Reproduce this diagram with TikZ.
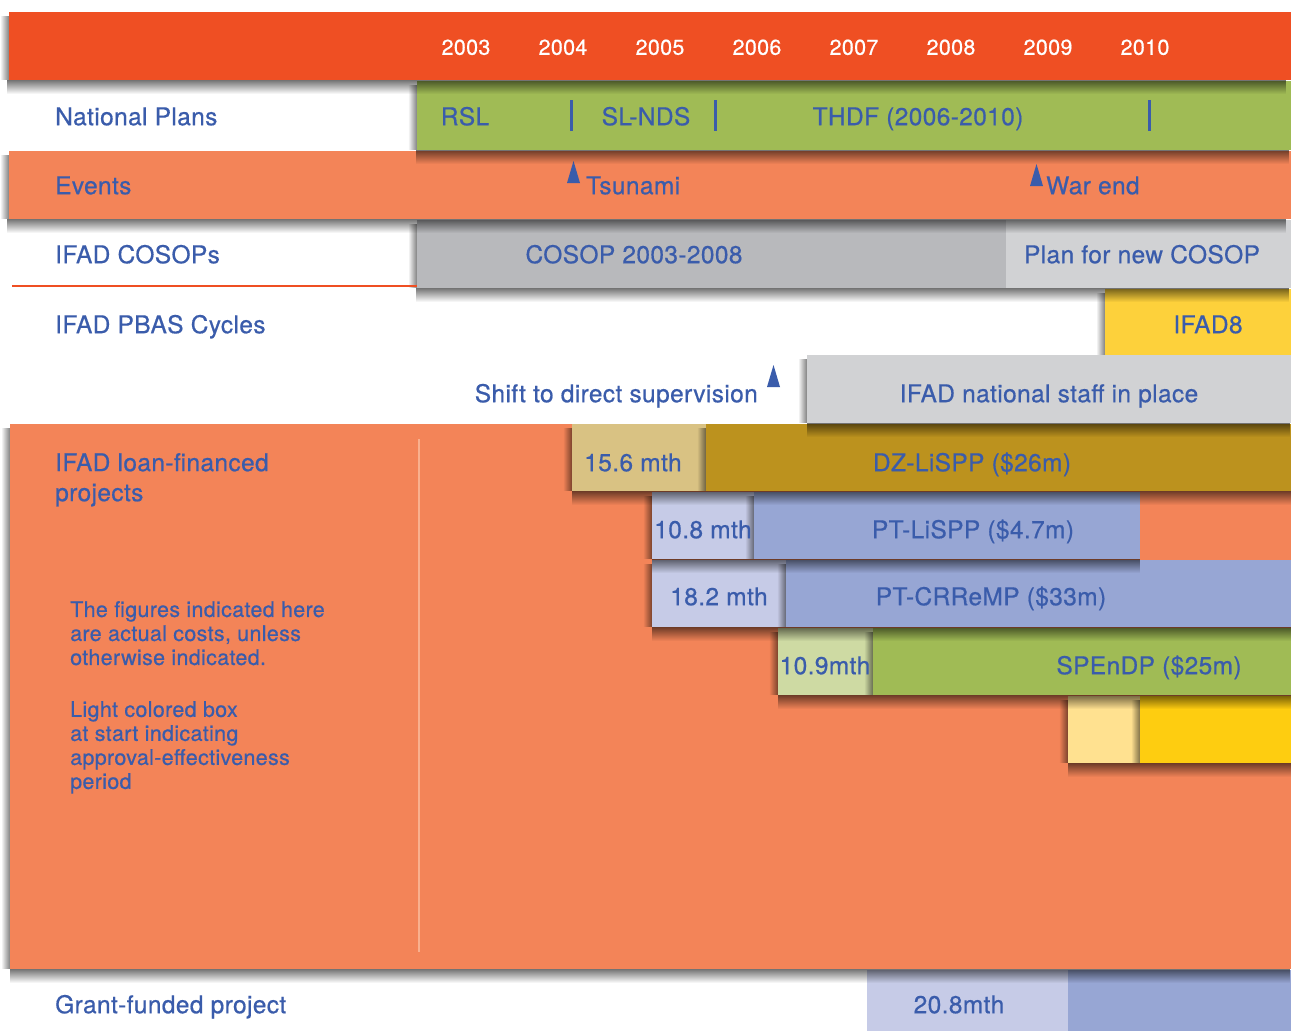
\documentclass[tikz,border=0pt]{standalone}
\usepackage{fontspec}
\setmainfont{TeX Gyre Heros}[FakeBold=0.6,LetterSpace=1.5]
\usetikzlibrary{fadings}
\tikzfading[name=fadedown, top color=transparent!45, bottom color=transparent!100]
\tikzfading[name=fadeleft, left color=transparent!100, right color=transparent!50]
\definecolor{topred}{HTML}{EF4F23}
\definecolor{salmon}{HTML}{F38458}
\definecolor{pgreen}{HTML}{A0BB55}
\definecolor{lgreen}{HTML}{CEDAA3}
\definecolor{greyA}{HTML}{B8B9BC}
\definecolor{greyB}{HTML}{D1D2D4}
\definecolor{yellowA}{HTML}{FDD13B}
\definecolor{gold}{HTML}{BC921E}
\definecolor{tan}{HTML}{D9C283}
\definecolor{pblue}{HTML}{97A6D4}
\definecolor{lblue}{HTML}{C6CBE7}
\definecolor{yellowB}{HTML}{FECD10}
\definecolor{lyellow}{HTML}{FFE190}
\definecolor{tblue}{HTML}{3A5CAB}
\definecolor{divline}{HTML}{F9B08E}
\newcommand{\shb}[3]{\fill[black,path fading=fadedown] (#1,#3) rectangle (#2,#3+14);}
\newcommand{\shl}[3]{\fill[black,path fading=fadeleft] (#1-9,#2+4) rectangle (#1,#3);}
\tikzset{
  txt/.style={text=tblue, font=\fontsize{24.5}{28}\selectfont, inner sep=0pt, text height=16.4pt, text depth=0pt},
  yr/.style={text=white, font=\fontsize{21.5}{24}\selectfont, inner sep=0pt, text height=15.5pt, text depth=0pt},
  note/.style={text=tblue, font=\fontsize{21.5}{24}\selectfont, inner sep=0pt, align=left, anchor=north west},
  biglbl/.style={text=tblue, font=\fontsize{24.5}{30}\selectfont, inner sep=0pt, align=left, anchor=north west},
  tri/.style={fill=tblue},
  divider/.style={draw=tblue, line width=3pt}
}
\begin{document}
\begin{tikzpicture}[x=1pt,y=-1pt]
\useasboundingbox (0,0) rectangle (1291,1031);
\fill[white] (0,0) rectangle (1291,1031);
% grant row
\fill[lblue] (867,970) rectangle (1068,1031);
\fill[pblue] (1068,970) rectangle (1291,1031);
\node[txt, anchor=west] (grant) at (55,1005) {Grant-funded project};
\node[txt] (g208) at (959,1005) {20.8mth};
% big salmon area
\fill[salmon] (10,424) rectangle (1291,969);
\shb{10}{1291}{969}
\shl{10}{424}{969}
\draw[divline, line width=1.5pt] (419,439) -- (419,952);
\node[biglbl] (loan) at (55,453) {IFAD loan-financed\\projects};
\node[note] (note1) at (70,601) {The figures indicated here\\are actual costs, unless\\otherwise indicated.};
\node[note] (note2) at (70,701) {Light colored box\\at start indicating\\approval-effectiveness\\period};
% yellow project
\fill[lyellow] (1068,696) rectangle (1140,763);
\fill[yellowB] (1140,696) rectangle (1291,763);
\shl{1140}{696}{763}
\shl{1068}{696}{763}
\shb{1068}{1291}{763}
% SPEnDP
\fill[lgreen] (778,628) rectangle (873,695);
\fill[pgreen] (873,628) rectangle (1291,695);
\shl{873}{628}{695}
\shl{778}{628}{695}
\shb{778}{1291}{695}
\node[txt] (t109) at (825,666) {10.9mth};
\node[txt] (spendp) at (1149,666) {SPEnDP (\$25m)};
% PT-CRReMP
\fill[lblue] (652,560) rectangle (786,627);
\fill[pblue] (786,560) rectangle (1291,627);
\shl{786}{560}{627}
\shl{652}{560}{627}
\shb{652}{1291}{627}
\node[txt] (t182) at (719,597) {18.2 mth};
\node[txt] (crremp) at (991,597) {PT-CRReMP (\$33m)};
% PT-LiSPP
\fill[lblue] (652,492) rectangle (754,559);
\fill[pblue] (754,492) rectangle (1140,559);
\shl{754}{492}{559}
\shl{652}{492}{559}
\shb{652}{1140}{559}
\node[txt] (t108) at (703,530) {10.8 mth};
\node[txt] (ptlispp) at (973,530) {PT-LiSPP (\$4.7m)};
% DZ-LiSPP
\fill[tan] (572,424) rectangle (706,491);
\fill[gold] (706,424) rectangle (1291,491);
\shl{706}{424}{491}
\shl{572}{424}{491}
\shb{572}{1291}{491}
\node[txt] (t156) at (633,463) {15.6 mth};
\node[txt] (dzlispp) at (972,463) {DZ-LiSPP (\$26m)};
% IFAD8
\fill[yellowA] (1105,289) rectangle (1291,355);
\shl{1105}{289}{355}
\node[txt] (ifad8) at (1208,325) {IFAD8};
% national staff
\fill[greyB] (807,355) rectangle (1291,423);
\shl{807}{355}{423}
\shb{807}{1291}{423}
\node[txt] (staff) at (1049,394) {IFAD national staff in place};
\node[txt, anchor=east] (shift) at (758,394) {Shift to direct supervision};
\fill[tri] (767,387) -- (780,387) -- (773.5,365) -- cycle;
\node[txt, anchor=west] (pbas) at (55,325) {IFAD PBAS Cycles};
% COSOP row
\fill[greyA] (417,220) rectangle (1006,288);
\fill[greyB] (1006,220) rectangle (1291,288);
\shl{417}{220}{288}
\shb{417}{1291}{288}
\draw[topred, line width=2pt] (12,286) -- (417,286);
\node[txt, anchor=west] (cosops) at (55,255) {IFAD COSOPs};
\node[txt] (cosop1) at (634,255) {COSOP 2003-2008};
\node[txt] (cosop2) at (1142,255) {Plan for new COSOP};
% events row
\fill[salmon] (9,151) rectangle (1291,219);
\shl{9}{151}{219}
\shb{9}{1291}{219}
\node[txt, anchor=west] (events) at (55,186) {Events};
\fill[tri] (567,183) -- (580,183) -- (573.5,161) -- cycle;
\node[txt, anchor=west] (tsunami) at (586,186) {Tsunami};
\fill[tri] (1030,186) -- (1043,186) -- (1036.5,164) -- cycle;
\node[txt, anchor=west] (warend) at (1046,186) {War end};
% national plans row
\fill[pgreen] (417,81) rectangle (1291,150);
\shl{417}{81}{150}
\shb{417}{1291}{150}
\node[txt, anchor=west] (plans) at (55,117) {National Plans};
\node[txt] (rsl) at (465,117) {RSL};
\node[txt] (slnds) at (646,117) {SL-NDS};
\node[txt] (thdf) at (918,117) {THDF (2006-2010)};
\draw[divider] (571,100) -- (571,131);
\draw[divider] (715,100) -- (715,131);
\draw[divider] (1149,100) -- (1149,131);
% top bar
\fill[topred] (9,12) rectangle (1291,80);
\shl{9}{12}{80}
\shb{9}{1291}{80}
\node[yr] (y2003) at (466,47) {2003};
\node[yr] (y2004) at (563,47) {2004};
\node[yr] (y2005) at (660,47) {2005};
\node[yr] (y2006) at (757,47) {2006};
\node[yr] (y2007) at (854,47) {2007};
\node[yr] (y2008) at (951,47) {2008};
\node[yr] (y2009) at (1048,47) {2009};
\node[yr] (y2010) at (1145,47) {2010};
\end{tikzpicture}
\end{document}
